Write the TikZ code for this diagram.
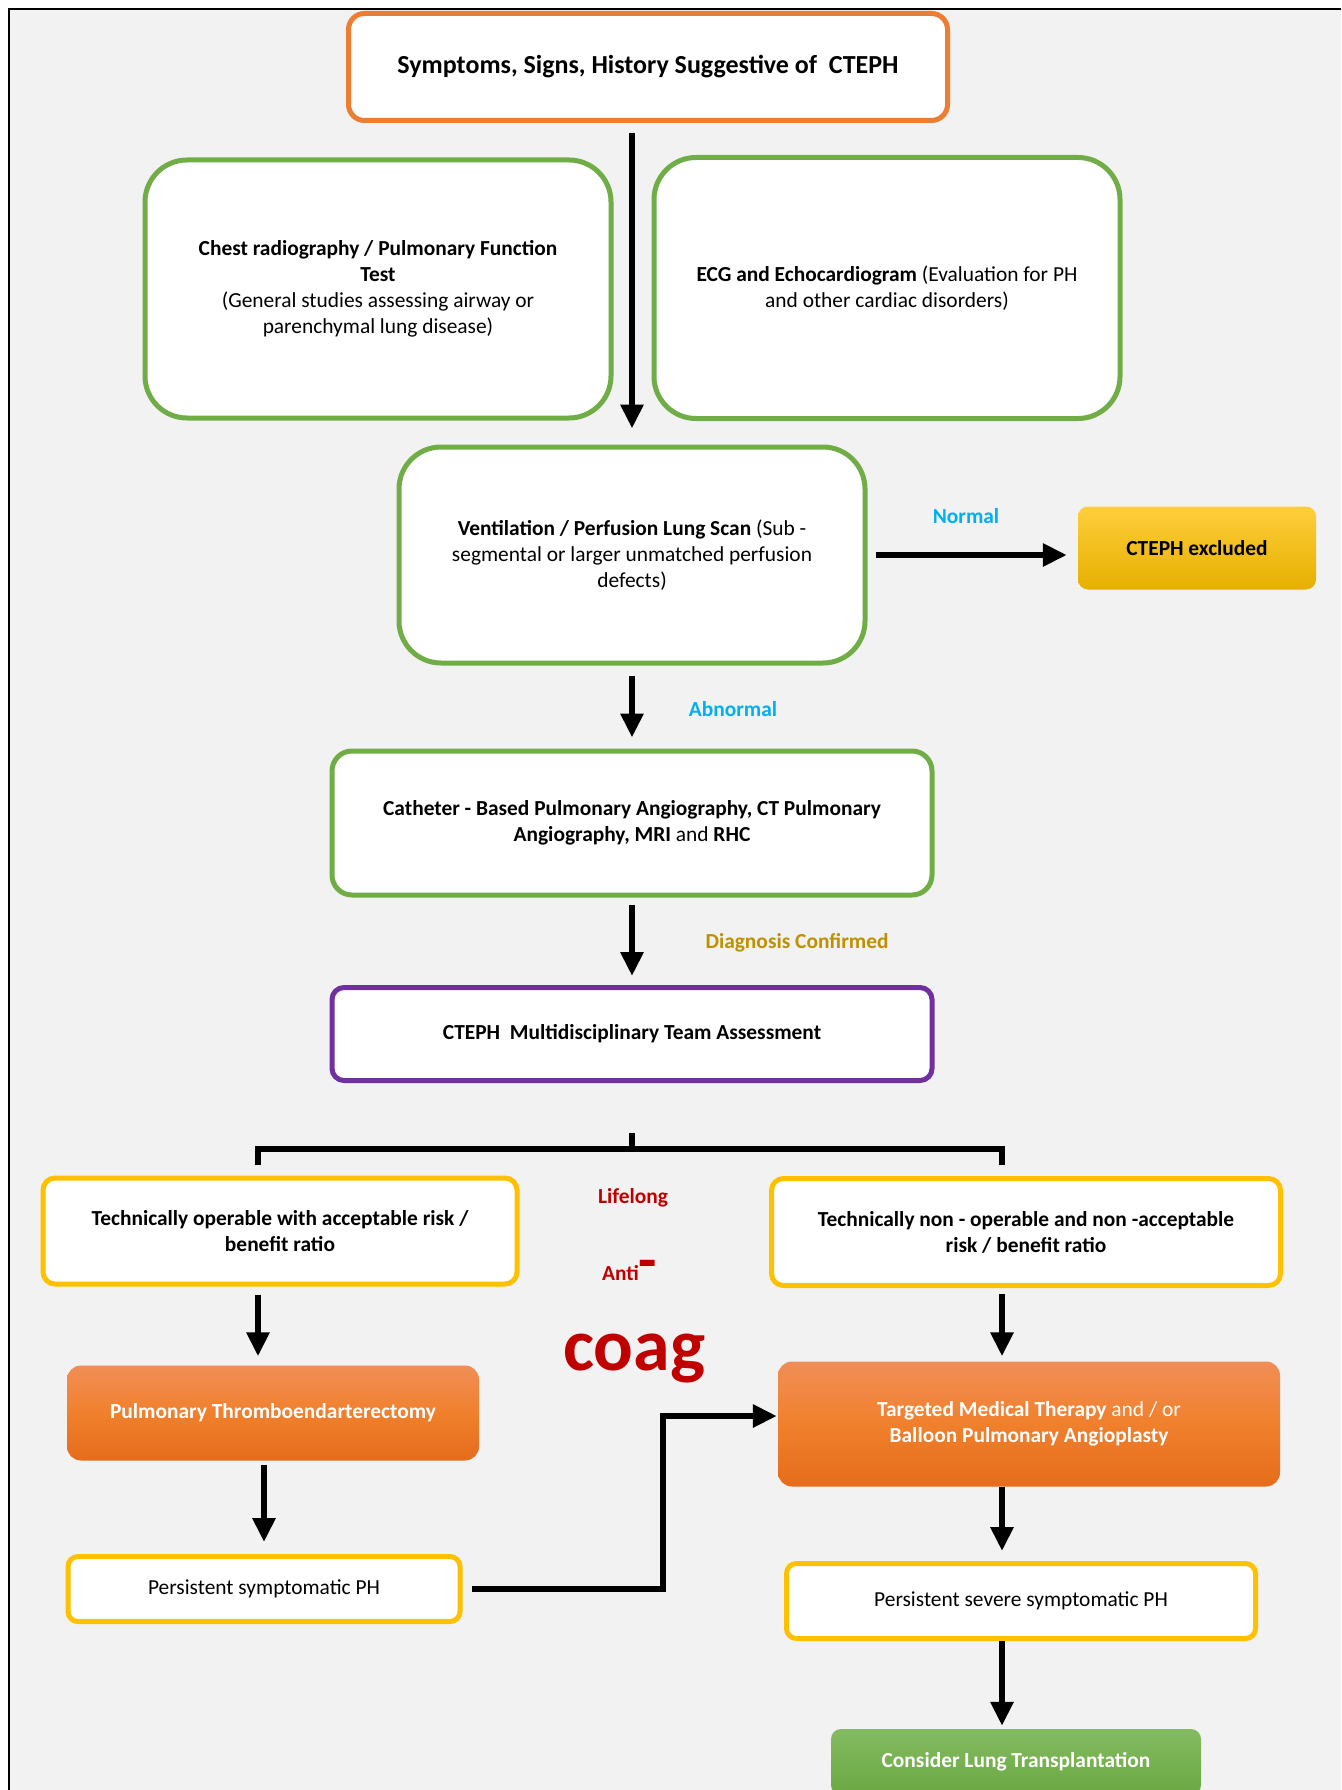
\documentclass[tikz,border=0pt]{standalone}
\usepackage{fontspec}
\setmainfont{Carlito}
\usepackage{tikz}
\usetikzlibrary{arrows.meta}
\definecolor{bggray}{RGB}{242,242,242}
\definecolor{gborder}{RGB}{112,173,71}
\definecolor{oborder}{RGB}{237,125,49}
\definecolor{yborder}{RGB}{255,192,0}
\definecolor{pborder}{RGB}{112,48,160}
\definecolor{otop}{RGB}{241,142,86}
\definecolor{omid}{RGB}{240,128,44}
\definecolor{obot}{RGB}{229,108,28}
\definecolor{ytop}{RGB}{255,206,60}
\definecolor{ybot}{RGB}{230,176,0}
\definecolor{ltop}{RGB}{132,187,98}
\definecolor{lbot}{RGB}{106,168,66}
\definecolor{labblue}{RGB}{0,176,240}
\definecolor{labgold}{RGB}{191,144,0}
\definecolor{labred}{RGB}{192,0,0}
\tikzset{
  box/.style={fill=white, line width=5pt, align=center, inner sep=0pt,
    font=\fontsize{21.4}{26}\selectfont},
  startbox/.style={box, draw=oborder, rounded corners=16pt, font=\fontsize{26}{30}\selectfont\bfseries},
  testbox/.style={box, draw=gborder, rounded corners=42pt},
  teambox/.style={box, draw=pborder, rounded corners=12pt},
  decbox/.style={box, draw=yborder, rounded corners=12pt},
  % gefuellte Kaesten
  treatbox/.style={rounded corners=14pt, top color=otop, bottom color=obot, middle color=omid,
    text=white, align=center, inner sep=0pt, font=\fontsize{21.4}{26}\selectfont},
  exclbox/.style={rounded corners=10pt, top color=ytop, bottom color=ybot,
    align=center, inner sep=0pt, font=\fontsize{21.4}{26}\selectfont\bfseries},
  lungbox/.style={rounded corners=10pt, top color=ltop, bottom color=lbot,
    text=white, align=center, inner sep=0pt, font=\fontsize{21.4}{26}\selectfont\bfseries},
  flow/.style={line width=6pt, -{Triangle[length=24pt, width=22pt]}},
  brace/.style={line width=6pt},
  lbl/.style={font=\fontsize{21.4}{24}\selectfont\bfseries, inner sep=0pt}
}
\begin{document}
\begin{tikzpicture}[x=1pt, y=-1pt]
  \useasboundingbox (0,0) rectangle (1341,1790);
  \fill[bggray] (9,9) rectangle (1341,1790);
  \draw[line width=2.5pt] (1341,9) -- (9,9) -- (9,1790);

  \node[startbox, minimum width=599pt, minimum height=107pt] (sympt) at (648,67)
    {Symptoms, Signs, History Suggestive of\ \ CTEPH};
  \node[testbox, minimum width=466pt, minimum height=258pt] (chest) at (378,289)
    {\textbf{Chest radiography / Pulmonary Function}\\ \textbf{Test}\\
     (General studies assessing airway or\\ parenchymal lung disease)};
  \node[testbox, minimum width=466pt, minimum height=261pt] (echo) at (887,288)
    {\textbf{ECG and Echocardiogram} (Evaluation for PH\\ and other cardiac disorders)};
  \node[testbox, minimum width=466pt, minimum height=216pt] (vq) at (632,555)
    {\textbf{Ventilation / Perfusion Lung Scan} (Sub -\\ segmental or larger unmatched perfusion\\ defects)};
  \node[exclbox, minimum width=238pt, minimum height=83pt] (excl) at (1197,548) {CTEPH excluded};
  \node[testbox, rounded corners=20pt, minimum width=600pt, minimum height=144pt] (cath) at (632,823)
    {\textbf{Catheter - Based Pulmonary Angiography, CT Pulmonary}\\
     \textbf{Angiography, MRI} and \textbf{RHC}};
  \node[teambox, minimum width=600pt, minimum height=93pt, font=\fontsize{21.4}{26}\selectfont\bfseries] (mdt)
    at (632,1034) {CTEPH\ \ Multidisciplinary Team Assessment};
  \node[decbox, minimum width=474pt, minimum height=106pt, font=\fontsize{21.4}{26}\selectfont\bfseries] (opl)
    at (280,1231) {Technically operable with acceptable risk /\\ benefit ratio};
  \node[decbox, minimum width=509pt, minimum height=107pt, font=\fontsize{21.4}{26}\selectfont\bfseries] (nopl)
    at (1026,1232) {Technically non - operable and non -acceptable\\ risk / benefit ratio};
  \node[treatbox, minimum width=412pt, minimum height=95pt] (pte) at (273,1413)
    {\textbf{Pulmonary Thromboendarterectomy}};
  \node[treatbox, minimum width=502pt, minimum height=125pt] (tmt) at (1029,1424)
    {\textbf{Targeted Medical Therapy} and / or\\ \textbf{Balloon Pulmonary Angioplasty}};
  \node[decbox, rounded corners=10pt, minimum width=392pt, minimum height=65pt] (psph) at (264,1589)
    {Persistent symptomatic PH};
  \node[decbox, rounded corners=10pt, minimum width=469pt, minimum height=75pt] (pssph) at (1021,1601)
    {Persistent severe symptomatic PH};
  \node[lungbox, minimum width=370pt, minimum height=66pt] (lung) at (1016,1762)
    {Consider Lung Transplantation};

  \node[lbl, text=labblue] (normal) at (966,516) {Normal};
  \node[lbl, text=labblue] (abnormal) at (733,709) {Abnormal};
  \node[lbl, text=labgold] (confirmed) at (797,943) {Diagnosis Confirmed};
  \node[lbl, text=labred] (lifelong) at (633,1198) {Lifelong};
  \node[lbl, text=labred, anchor=base west] (anti) at (602,1280) {Anti{\fontsize{60}{60}\selectfont -}};
  \node[lbl, text=labred, font=\fontsize{74}{74}\selectfont\bfseries, anchor=base] (coag) at (634,1370) {coag};

  \coordinate (brk) at (632,1133);
  \coordinate (brl) at (258,1165);
  \coordinate (brr) at (1002,1165);
  \coordinate (bend) at (663,1416);

  \draw[flow, shorten <=10pt, shorten >=16pt] (sympt.south -| vq.north) -- (vq.north);
  \draw[flow, shorten <=8pt, shorten >=11pt] (vq.east) -- (vq.east -| excl.west);
  \draw[flow, shorten <=10pt, shorten >=11pt] (vq) -- (cath);
  \draw[flow, shorten <=7pt, shorten >=9pt] (cath) -- (mdt);
  \draw[brace] (brl) -- ++(0,-16) -- ++(744,0) -- (brr);
  \draw[brace] (brk) -- ++(0,16);
  \draw[flow, shorten <=8pt, shorten >=9pt] (opl.south -| brl) -- (pte.north -| brl);
  \draw[flow, shorten <=6pt, shorten >=5pt] (nopl.south -| brr) -- (tmt.north -| brr);
  \draw[flow, shorten <=4pt, shorten >=12pt] (pte.south -| psph) -- (psph.north);
  \draw[flow, shorten >=10pt] (tmt.south -| brr) -- (pssph.north -| brr);
  \draw[flow, shorten >=3pt] (pssph.south -| brr) -- (lung.north -| brr);
  \draw[flow, shorten <=9pt, shorten >=1pt] (psph.east) -- (psph.east -| bend) -- (bend) -- (bend -| tmt.west);
\end{tikzpicture}
\end{document}
